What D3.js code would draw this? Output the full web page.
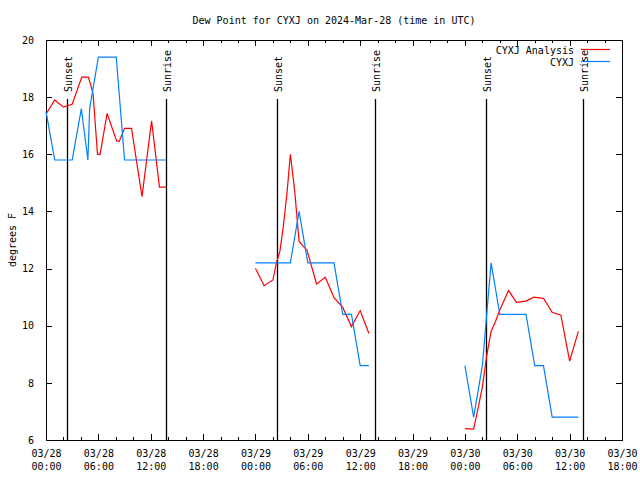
<!DOCTYPE html>
<html>
<head>
<meta charset="utf-8">
<script src="https://cdn.jsdelivr.net/npm/d3@7"></script>
<style>
  body { margin: 0; background: #fff; }
  svg text { font-family: "DejaVu Sans Mono", monospace; font-size: 10px; fill: #000; }
</style>
</head>
<body>
<svg id="chart" width="640" height="480"></svg>
<script>
// ---- data (hours since 2024-03-28 00:00 UTC) ----
const titleText = "Dew Point for CYXJ on 2024-Mar-28 (time in UTC)";
const yLabel = "degrees F";
const seriesNames = ["CYXJ Analysis", "CYXJ"];

const analysisHours = [0, 1, 2, 3, 4.1, 4.85, 5.15, 5.4, 5.9, 6.2, 7, 8.1, 8.4, 9, 9.8, 11, 12.1, 13, 13.75,
  null,
  24, 25, 26, 26.4, 26.8, 27.2, 27.6, 28, 28.5, 29, 29.5, 29.9, 31, 32, 33, 34, 35, 36, 37,
  null,
  48, 49, 49.5, 50, 50.5, 51, 51.5, 52, 53, 53.9, 55, 55.9, 57, 58, 59, 60, 61];
const analysisValues = [17.4, 17.9, 17.65, 17.75, 18.7, 18.7, 18.4, 18.1, 16.0, 16.0, 17.43, 16.46, 16.46, 16.91, 16.91, 14.52, 17.17, 14.85, 14.85,
  null,
  12.0, 11.4, 11.6, 12.2, 12.6, 13.5, 14.6, 16.0, 14.7, 12.95, 12.77, 12.65, 11.46, 11.7, 10.98, 10.64, 9.97, 10.53, 9.73,
  null,
  6.4, 6.38, 7.1, 7.85, 8.95, 9.8, 10.15, 10.55, 11.23, 10.82, 10.86, 11.0, 10.96, 10.47, 10.37, 8.76, 9.8];

const obsHours = [0, 1, 3, 4.05, 4.8, 5.0, 6, 8.05, 9, 13.75,
  null,
  24, 28, 29, 30, 33, 34, 35, 36, 37,
  null,
  48, 49, 50, 51, 52, 55, 56, 57, 58, 61];
const obsValues = [17.5, 15.8, 15.8, 17.6, 15.8, 17.6, 19.4, 19.4, 15.8, 15.8,
  null,
  12.2, 12.2, 14.0, 12.2, 12.2, 10.4, 10.4, 8.6, 8.6,
  null,
  8.6, 6.8, 8.6, 12.2, 10.4, 10.4, 8.6, 8.6, 6.8, 6.8];

const sunEventHours = [2.45, 13.75, 26.5, 37.75, 50.45, 61.55];
const sunEventNames = ["Sunset", "Sunrise", "Sunset", "Sunrise", "Sunset", "Sunrise"];

const xTickHours = [0, 6, 12, 18, 24, 30, 36, 42, 48, 54, 60, 66];
const xTickDates = ["03/28", "03/28", "03/28", "03/28", "03/29", "03/29", "03/29", "03/29", "03/30", "03/30", "03/30", "03/30"];
const xTickTimes = ["00:00", "06:00", "12:00", "18:00", "00:00", "06:00", "12:00", "18:00", "00:00", "06:00", "12:00", "18:00"];
const yTicks = [6, 8, 10, 12, 14, 16, 18, 20];

// ---- layout ----
const L = 46, R = 622, T = 40, B = 440;
const svg = d3.select("#chart");
const x = d3.scaleLinear().domain([0, 66]).range([L, R]);
const y = d3.scaleLinear().domain([6, 20]).range([B, T]);

// title
svg.append("text").attr("x", (L + R) / 2).attr("y", 24).attr("text-anchor", "middle").text(titleText);
// y label
svg.append("text").attr("transform", `translate(12,${(T + B) / 2}) rotate(-90)`)
  .attr("text-anchor", "middle").attr("dy", "0.35em").text(yLabel);

// minor ticks bottom/top
const minorHours = d3.range(0, 67, 2).filter(h => h % 6 !== 0);
svg.append("g").attr("transform", `translate(0,${B})`)
  .call(d3.axisBottom(x).tickValues(minorHours).tickSize(-3).tickFormat("").tickSizeOuter(0))
  .call(g => g.select(".domain").remove());
svg.append("g").attr("transform", `translate(0,${T})`)
  .call(d3.axisTop(x).tickValues(minorHours).tickSize(-3).tickFormat("").tickSizeOuter(0))
  .call(g => g.select(".domain").remove());
// major ticks bottom with labels
const xb = svg.append("g").attr("transform", `translate(0,${B})`)
  .call(d3.axisBottom(x).tickValues(xTickHours).tickSize(-6).tickFormat("").tickSizeOuter(0));
xb.select(".domain").remove();
xb.selectAll(".tick").each(function(d, i) {
  const t = d3.select(this).append("text").attr("text-anchor", "middle").attr("fill", "#000");
  t.append("tspan").attr("x", 0).attr("y", 17).text(xTickDates[i]);
  t.append("tspan").attr("x", 0).attr("y", 30).text(xTickTimes[i]);
});
svg.append("g").attr("transform", `translate(0,${T})`)
  .call(d3.axisTop(x).tickValues(xTickHours).tickSize(-6).tickFormat("").tickSizeOuter(0))
  .call(g => g.select(".domain").remove());

// y axes
const yl = svg.append("g").attr("transform", `translate(${L},0)`)
  .call(d3.axisLeft(y).tickValues(yTicks).tickSize(-6).tickFormat(d3.format("d")).tickSizeOuter(0).tickPadding(12));
yl.select(".domain").remove();
yl.selectAll("text").attr("font-size", "10px").attr("font-family", "DejaVu Sans Mono, monospace");
svg.append("g").attr("transform", `translate(${R},0)`)
  .call(d3.axisRight(y).tickValues(yTicks).tickSize(-6).tickFormat("").tickSizeOuter(0))
  .call(g => g.select(".domain").remove());

svg.selectAll(".tick line").attr("stroke", "#000").attr("shape-rendering", "crispEdges");

// frame
svg.append("rect").attr("x", L).attr("y", T).attr("width", R - L).attr("height", B - T)
  .attr("fill", "none").attr("stroke", "#000").attr("shape-rendering", "crispEdges");

// sunrise / sunset lines
sunEventHours.forEach((h, i) => {
  const xx = Math.round(x(h)) + 0.5;
  svg.append("line").attr("x1", xx).attr("x2", xx).attr("y1", 99).attr("y2", B)
    .attr("stroke", "#000").attr("stroke-width", 1.3);
  svg.append("text").attr("transform", `translate(${xx + 1},92) rotate(-90)`)
    .attr("dy", "0.35em").attr("text-anchor", "start").text(sunEventNames[i]);
});

// series
const analysisData = analysisHours.map((h, i) => ({ h, v: analysisValues[i] }));
const obsData = obsHours.map((h, i) => ({ h, v: obsValues[i] }));
const line = d3.line().defined(d => d.h !== null && d.v !== null).x(d => x(d.h)).y(d => y(d.v));
svg.append("path").datum(analysisData).attr("d", line).attr("fill", "none")
  .attr("stroke", "#ff0000").attr("stroke-width", 1.2);
svg.append("path").datum(obsData).attr("d", line).attr("fill", "none")
  .attr("stroke", "#0080ff").attr("stroke-width", 1.2);

// legend
const legendColors = ["#ff0000", "#0080ff"];
seriesNames.forEach((name, i) => {
  const ly = 50 + i * 12;
  svg.append("text").attr("x", 574).attr("y", ly).attr("dy", "0.35em").attr("text-anchor", "end").text(name);
  svg.append("line").attr("x1", 581).attr("x2", 610).attr("y1", ly - 0.5).attr("y2", ly - 0.5)
    .attr("stroke", legendColors[i]).attr("stroke-width", 1.2);
});
</script>
</body>
</html>
